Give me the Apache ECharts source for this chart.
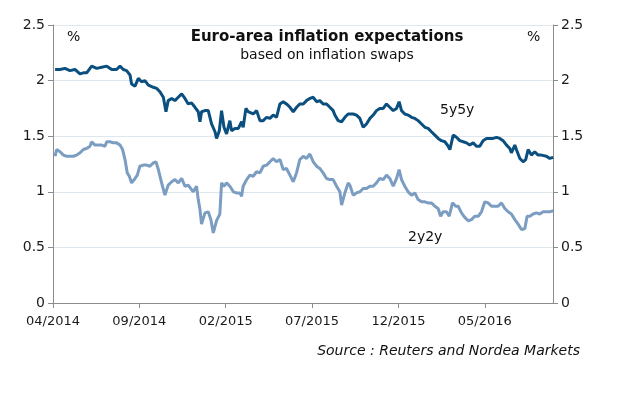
<!DOCTYPE html>
<html>
<head>
<meta charset="utf-8">
<script src="https://cdn.jsdelivr.net/npm/echarts@6/dist/echarts.min.js"></script>
<style>
  html, body { margin: 0; padding: 0; background: #fff; }
  #chart { width: 628px; height: 396px; }
</style>
</head>
<body>
<div id="chart"></div>
<script>
// x = months since 04/2014, y = %
var xTickLabels = ['04/2014', '09/2014', '02/2015', '07/2015', '12/2015', '05/2016'];
var yTicks = [0, 0.5, 1, 1.5, 2, 2.5];

var t5y5y = [0.12,0.41,0.69,0.98,1.27,1.56,1.76,1.95,2.24,2.53,2.82,3.11,3.40,3.68,3.88,4.07,4.26,4.46,4.55,4.75,4.94,5.13,5.32,5.52,
  5.81,6.00,6.19,6.39,6.54,6.67,6.87,7.06,7.25,7.45,7.64,7.83,8.02,8.22,8.41,8.51,8.60,8.80,8.99,9.18,9.38,9.47,9.63,9.76,9.90,10.05,10.24,10.34,10.53,10.73,10.92,11.01,11.17,11.30,
  11.40,11.59,11.79,11.98,12.17,12.37,12.56,12.75,12.94,13.14,13.33,13.52,13.72,13.91,14.10,14.29,14.49,14.68,14.87,15.07,15.26,15.45,15.64,15.84,16.03,16.22,16.32,16.51,16.71,16.90,17.09,
  17.19,17.38,17.57,17.77,17.96,18.15,18.35,18.54,18.73,18.92,19.12,19.31,19.50,19.70,19.89,20.04,20.18,20.37,20.56,20.76,20.95,21.14,21.34,21.53,21.72,21.91,22.11,22.30,22.49,22.69,22.88,
  22.98,23.17,23.36,23.55,23.75,23.94,24.13,24.33,24.52,24.71,24.90,25.10,25.29,25.48,25.68,25.87,26.06,26.26,26.45,26.54,26.74,26.83,27.03,27.22,27.37,27.51,27.70,27.89,28.09,28.28,28.57,28.76,28.96];
var v5y5y = [2.10,2.10,2.11,2.09,2.10,2.06,2.07,2.07,2.13,2.11,2.12,2.13,2.10,2.10,2.13,2.10,2.09,2.05,1.97,1.95,2.02,1.99,2.00,1.96,
  1.94,1.93,1.90,1.85,1.72,1.82,1.84,1.82,1.85,1.88,1.84,1.79,1.80,1.76,1.72,1.63,1.72,1.73,1.73,1.61,1.54,1.48,1.55,1.73,1.58,1.52,1.64,1.55,1.57,1.57,1.63,1.58,1.75,1.72,
  1.73,1.70,1.73,1.64,1.64,1.67,1.66,1.69,1.67,1.79,1.81,1.79,1.76,1.72,1.76,1.79,1.79,1.82,1.84,1.85,1.81,1.82,1.79,1.79,1.76,1.73,1.69,1.64,1.63,1.67,1.70,
  1.70,1.70,1.69,1.66,1.58,1.61,1.66,1.69,1.73,1.75,1.75,1.79,1.76,1.73,1.75,1.81,1.73,1.70,1.69,1.67,1.66,1.64,1.61,1.58,1.57,1.54,1.51,1.48,1.46,1.45,1.41,
  1.38,1.51,1.49,1.46,1.45,1.44,1.42,1.44,1.41,1.41,1.46,1.48,1.48,1.48,1.49,1.48,1.46,1.42,1.39,1.35,1.42,1.38,1.30,1.27,1.29,1.38,1.33,1.36,1.33,1.33,1.32,1.30,1.31];

var t2y2y = [0.12,0.21,0.41,0.60,0.79,0.98,1.18,1.37,1.56,1.76,1.95,2.14,2.24,2.43,2.62,2.82,3.01,3.11,3.30,3.49,3.68,3.88,4.03,4.17,4.30,4.42,4.55,4.75,4.88,5.03,5.23,5.42,5.61,
  5.81,5.96,6.10,6.29,6.48,6.67,6.87,7.06,7.25,7.45,7.64,7.83,7.93,8.12,8.31,8.41,8.51,8.60,8.80,8.99,9.14,9.28,9.47,9.66,9.76,9.90,10.05,10.24,10.44,10.63,10.82,10.92,11.01,11.21,11.40,
  11.59,11.79,11.98,12.17,12.37,12.56,12.75,12.94,13.14,13.33,13.52,13.72,13.91,14.10,14.29,14.49,14.68,14.87,15.07,15.26,15.45,15.64,15.84,16.03,16.22,16.42,16.61,16.71,16.90,17.09,
  17.19,17.38,17.57,17.77,17.96,18.15,18.35,18.54,18.73,18.92,19.12,19.31,19.50,19.70,19.89,20.04,20.18,20.37,20.56,20.76,20.95,21.14,21.34,21.53,21.72,21.91,22.11,22.30,22.44,22.59,22.78,22.94,
  23.13,23.32,23.46,23.65,23.84,24.04,24.23,24.42,24.62,24.81,25.00,25.19,25.39,25.58,25.77,25.97,26.16,26.35,26.54,26.74,26.93,27.12,27.32,27.45,27.61,27.80,27.99,28.18,28.38,28.57,28.76,28.96];
var v2y2y = [1.32,1.38,1.36,1.33,1.32,1.32,1.32,1.33,1.35,1.38,1.39,1.41,1.45,1.42,1.42,1.42,1.41,1.45,1.45,1.44,1.44,1.42,1.38,1.29,1.17,1.14,1.08,1.12,1.15,1.23,1.24,1.24,1.23,
  1.26,1.27,1.20,1.08,0.97,1.06,1.09,1.11,1.08,1.12,1.05,1.06,1.05,1.00,1.05,0.93,0.84,0.71,0.81,0.82,0.75,0.63,0.74,0.80,1.08,1.05,1.08,1.05,1.00,0.99,0.99,0.96,1.05,1.11,1.15,
  1.14,1.18,1.17,1.23,1.24,1.27,1.30,1.27,1.29,1.20,1.21,1.15,1.09,1.17,1.29,1.32,1.30,1.34,1.27,1.23,1.21,1.17,1.12,1.11,1.11,1.05,1.00,0.88,0.99,1.08,
  1.06,0.97,0.99,1.00,1.03,1.03,1.05,1.05,1.08,1.12,1.11,1.15,1.12,1.05,1.12,1.20,1.11,1.05,1.00,0.97,0.99,0.93,0.91,0.91,0.90,0.90,0.87,0.85,0.78,0.82,0.82,0.78,
  0.90,0.87,0.87,0.81,0.77,0.74,0.75,0.78,0.78,0.82,0.91,0.90,0.87,0.87,0.87,0.90,0.85,0.82,0.80,0.75,0.71,0.66,0.67,0.78,0.78,0.80,0.81,0.80,0.82,0.82,0.82,0.83];

function pairs(t, v) {
  var out = [];
  for (var i = 0; i < t.length; i++) out.push([t[i], v[i]]);
  return out;
}

var chart = echarts.init(document.getElementById('chart'), null, { renderer: 'canvas' });

var font = 'DejaVu Sans';
var axisGray = '#8c8c8c';

var yAxisBase = {
  type: 'value',
  min: yTicks[0],
  max: yTicks[yTicks.length - 1],
  interval: 0.5,
  axisLine: { show: true, lineStyle: { color: axisGray, width: 1 } },
  axisTick: { show: true, length: 5, lineStyle: { color: axisGray } },
  axisLabel: { fontFamily: font, fontSize: 14, color: '#1a1a1a', margin: 8 }
};

var option = {
  backgroundColor: '#ffffff',
  animation: false,
  title: {
    text: 'Euro-area inflation expectations',
    subtext: 'based on inflation swaps',
    left: 322,
    top: 25,
    textAlign: 'center',
    itemGap: 3,
    textStyle: { fontFamily: font, fontSize: 15, fontWeight: 'bold', color: '#111' },
    subtextStyle: { fontFamily: font, fontSize: 14, color: '#111' }
  },
  grid: { left: 53, right: 75, top: 25, bottom: 93 },
  xAxis: {
    type: 'value',
    min: 0,
    max: 28.95,
    interval: 5,
    splitLine: { show: false },
    axisLine: { show: true, lineStyle: { color: axisGray } },
    axisTick: { show: true, length: 5, lineStyle: { color: axisGray } },
    axisLabel: {
      fontFamily: font, fontSize: 13, color: '#1a1a1a', margin: 12,
      showMaxLabel: false,
      formatter: function (v) {
        var k = Math.round(v / 5);
        return Math.abs(v - k * 5) < 1e-6 && xTickLabels[k] ? xTickLabels[k] : '';
      }
    }
  },
  yAxis: [
    Object.assign({}, yAxisBase, {
      position: 'left',
      splitLine: { show: true, lineStyle: { color: '#dfe7ee', width: 1 } }
    }),
    Object.assign({}, yAxisBase, {
      position: 'right',
      splitLine: { show: false }
    })
  ],
  series: [
    {
      name: '5y5y',
      type: 'line',
      data: pairs(t5y5y, v5y5y),
      showSymbol: false,
      lineStyle: { color: '#0b4f7f', width: 3 },
      z: 3
    },
    {
      name: '2y2y',
      type: 'line',
      data: pairs(t2y2y, v2y2y),
      showSymbol: false,
      lineStyle: { color: '#7b9dc1', width: 3 },
      z: 2
    }
  ],
  graphic: [
    { type: 'text', left: 67, top: 30, style: { text: '%', font: '14px "DejaVu Sans"', fill: '#111' } },
    { type: 'text', left: 527, top: 30, style: { text: '%', font: '14px "DejaVu Sans"', fill: '#111' } },
    { type: 'text', left: 440, top: 103, style: { text: '5y5y', font: '14px "DejaVu Sans"', fill: '#111' } },
    { type: 'text', left: 408, top: 230, style: { text: '2y2y', font: '14px "DejaVu Sans"', fill: '#111' } },
    { type: 'text', right: 48, top: 344, style: { text: 'Source : Reuters and Nordea Markets', font: 'italic 14px "DejaVu Sans"', fill: '#111' } }
  ]
};

chart.setOption(option);
</script>
</body>
</html>
